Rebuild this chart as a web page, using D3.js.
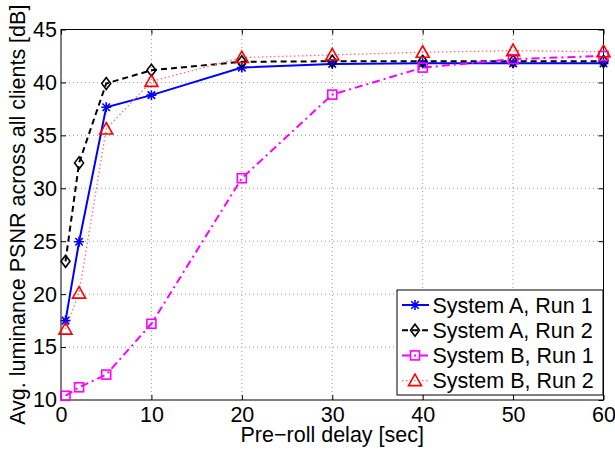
<!DOCTYPE html>
<html>
<head>
<meta charset="utf-8">
<script src="https://cdn.jsdelivr.net/npm/d3@7"></script>
<style>
  html, body { margin: 0; padding: 0; background: #fff; }
  svg { display: block; font-family: "Liberation Sans", Arial, sans-serif; }
</style>
</head>
<body>
<svg id="chart" width="615" height="452"></svg>
<script>
// Datos
const delays = [0.5, 2, 5, 10, 20, 30, 40, 50, 60];
const sysARun1 = [17.5, 24.95, 37.65, 38.8, 41.4, 41.75, 41.8, 41.8, 41.8];
const sysARun2 = [23.1, 32.4, 39.9, 41.15, 41.95, 42.0, 42.0, 42.0, 42.0];
const sysBRun1 = [10.4, 11.2, 12.4, 17.2, 30.95, 38.85, 41.4, 42.2, 42.5];
const sysBRun2 = [16.7, 20.1, 35.6, 40.1, 42.35, 42.6, 42.85, 43.0, 42.9];
const xTicks = [0, 10, 20, 30, 40, 50, 60];
const yTicks = [10, 15, 20, 25, 30, 35, 40, 45];
const seriesNames = ["System A, Run 1", "System A, Run 2", "System B, Run 1", "System B, Run 2"];

const series = [
  { name: seriesNames[0], values: sysARun1, color: "#0000ff", dash: null, width: 2, marker: "star" },
  { name: seriesNames[1], values: sysARun2, color: "#000000", dash: "6,4", width: 2, marker: "diamond" },
  { name: seriesNames[2], values: sysBRun1, color: "#ff00ff", dash: "8,4,2,4", width: 2, marker: "square" },
  { name: seriesNames[3], values: sysBRun2, color: "#ff0000", dash: "1.5,2.5", width: 1.3, marker: "triangle", lineColor: "#ff7070" }
];

const svg = d3.select("#chart");
const m = { left: 61, right: 11.5, top: 29.5, bottom: 52 };
const W = 615, H = 452;
const x = d3.scaleLinear().domain([0, 60]).range([m.left, W - m.right]);
const y = d3.scaleLinear().domain([10, 45]).range([H - m.bottom, m.top]);

// Rejilla punteada
const grid = svg.append("g");
xTicks.slice(1, -1).forEach(t => {
  grid.append("line")
    .attr("x1", x(t)).attr("x2", x(t)).attr("y1", y(10)).attr("y2", y(45))
    .attr("stroke", "#9a9a9a").attr("stroke-width", 1).attr("stroke-dasharray", "1,3");
});
yTicks.slice(1, -1).forEach(t => {
  grid.append("line")
    .attr("x1", x(0)).attr("x2", x(60)).attr("y1", y(t)).attr("y2", y(t))
    .attr("stroke", "#9a9a9a").attr("stroke-width", 1).attr("stroke-dasharray", "1,3");
});

// Ejes con marcas hacia dentro
const fs = 21.5;
const xAxis = svg.append("g").attr("transform", `translate(0,${y(10)})`)
  .call(d3.axisBottom(x).tickValues(xTicks).tickSizeInner(-5).tickSizeOuter(0).tickPadding(6.5));
const yAxis = svg.append("g").attr("transform", `translate(${x(0)},0)`)
  .call(d3.axisLeft(y).tickValues(yTicks).tickSizeInner(-5).tickSizeOuter(0).tickPadding(4));
const xTop = svg.append("g").attr("transform", `translate(0,${y(45)})`)
  .call(d3.axisTop(x).tickValues(xTicks).tickSizeInner(-5).tickSizeOuter(0).tickFormat(""));
const yRight = svg.append("g").attr("transform", `translate(${x(60)},0)`)
  .call(d3.axisRight(y).tickValues(yTicks).tickSizeInner(-5).tickSizeOuter(0).tickFormat(""));
[xAxis, yAxis, xTop, yRight].forEach(a => {
  a.select(".domain").remove();
  a.selectAll("line").attr("stroke", "#000");
  a.selectAll("text").attr("font-size", fs).attr("fill", "#000")
    .attr("font-family", "Liberation Sans, Arial, sans-serif");
});

svg.append("rect")
  .attr("x", x(0)).attr("y", y(45))
  .attr("width", x(60) - x(0)).attr("height", y(10) - y(45))
  .attr("fill", "none").attr("stroke", "#000").attr("stroke-width", 1);

// Marcadores
function drawMarker(g, type, cx, cy, color) {
  if (type === "star") {
    const r = 5;
    const p = `M${cx - r},${cy}L${cx + r},${cy}M${cx},${cy - r}L${cx},${cy + r}` +
      `M${cx - r * 0.75},${cy - r * 0.75}L${cx + r * 0.75},${cy + r * 0.75}` +
      `M${cx - r * 0.75},${cy + r * 0.75}L${cx + r * 0.75},${cy - r * 0.75}`;
    g.append("path").attr("d", p).attr("stroke", color).attr("stroke-width", 1.6).attr("fill", "none");
  } else if (type === "diamond") {
    g.append("path").attr("d", `M${cx},${cy - 6}L${cx + 4.5},${cy}L${cx},${cy + 6}L${cx - 4.5},${cy}Z`)
      .attr("stroke", color).attr("stroke-width", 1.6).attr("fill", "none");
  } else if (type === "square") {
    g.append("rect").attr("x", cx - 4.5).attr("y", cy - 4.5).attr("width", 9).attr("height", 9)
      .attr("stroke", color).attr("stroke-width", 1.6).attr("fill", "none");
  } else if (type === "triangle") {
    g.append("path").attr("d", `M${cx},${cy - 6.5}L${cx + 6.5},${cy + 5}L${cx - 6.5},${cy + 5}Z`)
      .attr("stroke", color).attr("stroke-width", 1.6).attr("fill", "none");
  }
}

const line = d3.line().x(d => x(d[0])).y(d => y(d[1]));
series.forEach(s => {
  const pts = delays.map((d, i) => [d, s.values[i]]);
  svg.append("path").datum(pts)
    .attr("d", line)
    .attr("fill", "none")
    .attr("stroke", s.lineColor || s.color)
    .attr("stroke-width", s.width)
    .attr("stroke-dasharray", s.dash);
});
series.forEach(s => {
  const g = svg.append("g");
  delays.forEach((d, i) => drawMarker(g, s.marker, x(d), y(s.values[i]), s.color));
});

// Leyenda
const lg = svg.append("g");
const lx = 397, ly = 290, lw = 206, lh = 105;
lg.append("rect").attr("x", lx).attr("y", ly).attr("width", lw).attr("height", lh)
  .attr("fill", "#fff").attr("stroke", "#000").attr("stroke-width", 1);
series.forEach((s, i) => {
  const ry = ly + 15 + i * 25.2;
  lg.append("line").attr("x1", lx + 5).attr("x2", lx + 32).attr("y1", ry).attr("y2", ry)
    .attr("stroke", s.lineColor || s.color).attr("stroke-width", s.width)
    .attr("stroke-dasharray", s.dash);
  drawMarker(lg, s.marker, lx + 18, ry, s.color);
  lg.append("text").attr("x", lx + 35.5).attr("y", ry + 7.5)
    .attr("font-size", fs).attr("fill", "#000").text(s.name);
});

// Títulos de ejes
svg.append("text")
  .attr("x", (x(0) + x(60)) / 2).attr("y", 442)
  .attr("text-anchor", "middle").attr("font-size", fs).text("Pre\u2212roll delay [sec]");
svg.append("text")
  .attr("transform", `translate(25,${(y(10) + y(45)) / 2}) rotate(-90)`)
  .attr("text-anchor", "middle").attr("font-size", fs)
  .text("Avg. luminance PSNR across all clients [dB]");
</script>
</body>
</html>
